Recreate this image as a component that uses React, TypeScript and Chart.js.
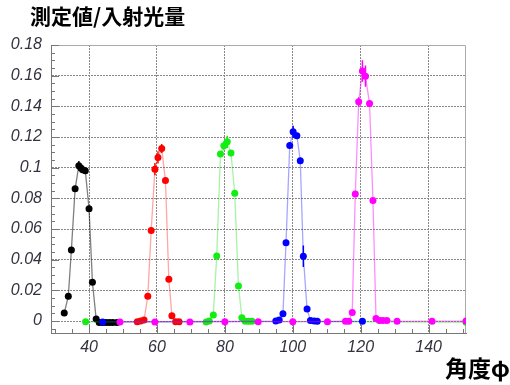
import React, { useEffect, useRef } from 'react';
import { Chart, registerables } from 'chart.js';

Chart.register(...registerables);

// ---- data ----
const blackX = [32.7, 33.9, 34.8, 35.9, 37.0, 37.6, 38.1, 38.9, 40.0, 41.0, 42.1, 43.0, 44.0, 45.0, 46.0, 47.0, 48.2];
const blackY = [0.0052, 0.0162, 0.0463, 0.0862, 0.1013, 0.0998, 0.0987, 0.098, 0.0732, 0.0253, 0.0013, -0.0009, -0.0009, -0.0009, -0.0009, -0.0009, -0.0009];
const blackErr = [0, 0, 0, 0, 0.003, 0.002, 0, 0, 0, 0, 0, 0, 0, 0, 0, 0, 0];

const redX = [54.2, 55.2, 56.2, 57.3, 58.3, 59.4, 60.3, 61.4, 62.5, 63.5, 64.4, 65.5, 66.5];
const redY = [-0.0005, 0.0, 0.0006, 0.0162, 0.059, 0.099, 0.1067, 0.1125, 0.0916, 0.0273, 0.0035, -0.0005, -0.0005];
const redErr = [0, 0, 0, 0, 0, 0.004, 0.004, 0.003, 0, 0, 0, 0, 0];

const greenX = [39.0, 74.5, 75.4, 76.6, 77.6, 78.7, 79.7, 80.7, 81.8, 82.9, 84.0, 85.0, 86.0, 87.0, 88.0, 151.0];
const greenY = [-0.0005, -0.0006, 0.0, 0.0039, 0.0424, 0.1089, 0.1143, 0.1169, 0.1095, 0.0833, 0.0229, 0.0021, -0.0002, -0.0002, -0.0002, -0.0008];
const greenErr = [0, 0, 0, 0, 0, 0.002, 0.003, 0.004, 0.002, 0, 0, 0, 0, 0, 0, 0];

const blueX = [44.0, 95.0, 96.0, 97.1, 98.0, 99.1, 100.1, 101.2, 102.2, 103.1, 104.2, 105.2, 106.3, 107.2, 120.5];
const blueY = [-0.0006, 0.0, 0.0006, 0.0047, 0.0511, 0.1145, 0.1234, 0.1208, 0.1045, 0.0422, 0.0078, 0.0004, 0.0, -0.0002, -0.0002];
const blueErr = [0, 0, 0, 0, 0, 0.002, 0.004, 0.002, 0.002, 0.007, 0, 0, 0, 0, 0];

const magentaX = [49.1, 59.4, 69.7, 80.0, 89.8, 100.0, 110.2, 115.5, 116.5, 117.5, 118.4, 119.4, 120.5, 121.4, 122.6, 123.6, 124.5, 125.5, 126.5, 127.7, 130.7, 141.0, 151.0];
const magentaY = [-0.0006, -0.0006, -0.0006, -0.0005, -0.0004, -0.0004, -0.0004, -0.0002, -0.0002, 0.0056, 0.0829, 0.143, 0.163, 0.1597, 0.1418, 0.0786, 0.0017, 0.0003, 0.0003, 0.0003, -0.0002, -0.0001, 0.0];
const magentaErr = [0, 0, 0, 0, 0, 0, 0, 0, 0, 0, 0, 0.003, 0.007, 0.007, 0.002, 0, 0, 0, 0, 0, 0, 0, 0];

const xTickValues = [40, 60, 80, 100, 120, 140];
const yTickValues = [0, 0.02, 0.04, 0.06, 0.08, 0.1, 0.12, 0.14, 0.16, 0.18];

const TITLE = '測定値/入射光量';
const X_TITLE = '角度φ';

const X_MIN = 28.8;
const X_MAX = 151.0;
const Y_MIN = -0.0078;
const Y_MAX = 0.18;

const pts = (xs: number[], ys: number[]) => xs.map((x, i) => ({ x, y: ys[i] }));

const series = [
  { xs: magentaX, ys: magentaY, err: magentaErr, point: '#ff00ff', line: 'rgba(255,0,255,0.45)' },
  { xs: blueX, ys: blueY, err: blueErr, point: '#0000ff', line: 'rgba(0,0,255,0.35)' },
  { xs: greenX, ys: greenY, err: greenErr, point: '#11ee11', line: 'rgba(0,220,0,0.35)' },
  { xs: redX, ys: redY, err: redErr, point: '#ff0000', line: 'rgba(255,0,0,0.35)' },
  { xs: blackX, ys: blackY, err: blackErr, point: '#000000', line: 'rgba(0,0,0,0.5)' },
];

const framePlugin = {
  id: 'rootFrame',
  beforeDatasetsDraw(chart: any) {
    const { ctx, chartArea: a, scales } = chart;
    const xs = scales.x;
    const ys = scales.y;
    ctx.save();
    // top and right frame
    ctx.strokeStyle = '#aaaaaa';
    ctx.lineWidth = 1;
    ctx.beginPath();
    ctx.moveTo(a.left, a.top + 0.5);
    ctx.lineTo(a.right - 0.5, a.top + 0.5);
    ctx.lineTo(a.right - 0.5, a.bottom);
    ctx.stroke();
    // inward ticks
    ctx.strokeStyle = '#777777';
    ctx.beginPath();
    for (let i = -1; i <= 36; i++) {
      const v = i * 0.005;
      if (v < Y_MIN || v > Y_MAX + 1e-9) continue;
      const y = Math.round(ys.getPixelForValue(v)) + 0.5;
      const len = i % 4 === 0 ? 8 : 4;
      ctx.moveTo(a.left, y);
      ctx.lineTo(a.left + len, y);
    }
    for (let v = 30; v <= 150; v += 5) {
      const x = Math.round(xs.getPixelForValue(v)) + 0.5;
      const len = v % 20 === 0 ? 8 : 4;
      ctx.moveTo(x, a.bottom);
      ctx.lineTo(x, a.bottom - len);
    }
    ctx.stroke();
    ctx.restore();
  },
  afterDatasetsDraw(chart: any) {
    const { ctx, chartArea: a, scales } = chart;
    ctx.save();
    ctx.beginPath();
    ctx.rect(a.left, a.top, a.right - a.left, a.bottom - a.top);
    ctx.clip();
    ctx.lineWidth = 1.5;
    series.forEach((s) => {
      ctx.strokeStyle = s.point;
      ctx.beginPath();
      s.xs.forEach((xv, i) => {
        const e = s.err[i];
        if (!e) return;
        const x = scales.x.getPixelForValue(xv);
        ctx.moveTo(x, scales.y.getPixelForValue(s.ys[i] - e));
        ctx.lineTo(x, scales.y.getPixelForValue(s.ys[i] + e));
      });
      ctx.stroke();
    });
    ctx.restore();
  },
};

export default function App() {
  const ref = useRef<HTMLCanvasElement | null>(null);
  useEffect(() => {
    if (!ref.current) return;
    const tickFont = { family: '"Liberation Sans", Arial, sans-serif', size: 16, style: 'italic' as const };
    const chart = new Chart(ref.current, {
      type: 'line',
      data: {
        datasets: series.map((s) => ({
          data: pts(s.xs, s.ys),
          borderColor: s.line,
          borderWidth: 1.3,
          backgroundColor: s.point,
          pointBackgroundColor: s.point,
          pointBorderWidth: 0,
          pointRadius: 3.5,
          tension: 0,
          fill: false,
        })),
      },
      options: {
        responsive: false,
        animation: false,
        devicePixelRatio: 1,
        layout: { padding: { top: 45, right: 44, left: 0, bottom: 0 } },
        plugins: { legend: { display: false }, tooltip: { enabled: false }, title: { display: false } },
        scales: {
          x: {
            type: 'linear',
            min: X_MIN,
            max: X_MAX,
            afterBuildTicks: (scale: any) => {
              scale.ticks = xTickValues.map((v) => ({ value: v }));
            },
            afterFit: (scale: any) => {
              scale.height = 52;
            },
            ticks: {
              font: tickFont,
              color: '#333340',
              padding: 5,
              maxRotation: 0,
              callback: (v: any) => String(v),
            },
            grid: { color: '#888888', lineWidth: 1, drawTicks: false },
            border: { display: true, color: '#777777', width: 1, dash: [2, 1] },
          },
          y: {
            type: 'linear',
            min: Y_MIN,
            max: Y_MAX,
            afterBuildTicks: (scale: any) => {
              scale.ticks = yTickValues.map((v) => ({ value: v }));
            },
            afterFit: (scale: any) => {
              scale.width = 51;
            },
            ticks: {
              font: tickFont,
              color: '#333340',
              padding: 9,
              callback: (v: any) => String(parseFloat(Number(v).toFixed(3))),
            },
            grid: { color: '#888888', lineWidth: 1, drawTicks: false },
            border: { display: true, color: '#777777', width: 1, dash: [2, 1] },
          },
        },
      },
      plugins: [framePlugin],
    } as any);
    return () => chart.destroy();
  }, []);

  return (
    <div style={{ position: 'absolute', left: 0, top: 0, width: 510, height: 385, background: '#fff' }}>
      <canvas ref={ref} width={510} height={385} style={{ position: 'absolute', left: 0, top: 0 }} />
      <div
        style={{
          position: 'absolute',
          left: 30,
          top: 5,
          fontFamily: '"Noto Sans CJK JP", sans-serif',
          fontWeight: 700,
          fontSize: 21,
          lineHeight: '21px',
          color: '#000',
          whiteSpace: 'nowrap',
        }}
      >
        {TITLE}
      </div>
      <div
        style={{
          position: 'absolute',
          left: 445,
          top: 356,
          fontFamily: '"Noto Sans CJK JP", sans-serif',
          fontWeight: 700,
          fontSize: 23,
          lineHeight: '23px',
          color: '#000',
          whiteSpace: 'nowrap',
        }}
      >
        {X_TITLE}
      </div>
    </div>
  );
}
